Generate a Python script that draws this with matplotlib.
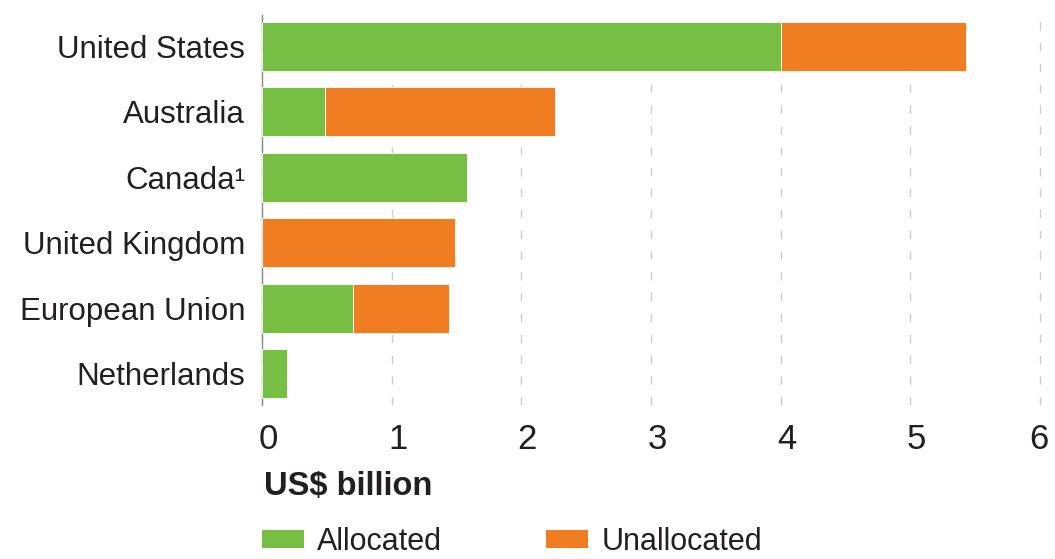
import matplotlib
matplotlib.use("Agg")
import matplotlib.pyplot as plt
from matplotlib.patches import Patch
import matplotlib.transforms as mtransforms

plt.rcParams['font.family'] = ['Liberation Sans', 'DejaVu Sans']

countries = ["United States", "Australia", "Canada\u00b9", "United Kingdom",
             "European Union", "Netherlands"]
allocated = [4.00, 0.49, 1.58, 0.00, 0.70, 0.19]
unallocated = [1.43, 1.77, 0.00, 1.49, 0.74, 0.00]
xticks = [0, 1, 2, 3, 4, 5, 6]

green = "#77BF43"
orange = "#F07D22"
ink = "#231f20"

fig = plt.figure(figsize=(10.55, 5.59), dpi=100)
ax = fig.add_axes([0.2483, 0.2755, 0.7375, 0.6975])

ypos = list(range(len(countries)))
ax.barh(ypos, allocated, height=0.75, color=green, edgecolor="white",
        linewidth=0.6, zorder=3)
ax.barh(ypos, unallocated, left=allocated, height=0.75, color=orange,
        edgecolor="white", linewidth=0.6, zorder=3)

ax.set_xlim(0, 6)
ax.set_ylim(len(countries) - 0.52, -0.48)
ax.set_yticks(ypos)
ax.set_yticklabels(countries, fontsize=22.5, color=ink)
ax.set_xticks(xticks)
ax.set_xticklabels([str(t) for t in xticks], fontsize=25, color=ink)

ax.tick_params(axis="both", length=0)
ax.tick_params(axis="x", pad=13)
ax.tick_params(axis="y", pad=12)

# nudge the tick numbers slightly right of their gridlines (last one stays inside)
labels = ax.get_xticklabels()
for i, lbl in enumerate(labels):
    dx = 6 if i < len(labels) - 1 else -1
    lbl.set_transform(lbl.get_transform() +
                      mtransforms.ScaledTranslation(dx / 100, 0, fig.dpi_scale_trans))

for s in ["top", "right", "bottom"]:
    ax.spines[s].set_visible(False)
ax.spines["left"].set_color("#8a8a8a")
ax.spines["left"].set_linewidth(1.0)

ax.xaxis.grid(True, linestyle=(0, (6, 9)), color="#cccccc", linewidth=1.0, zorder=0)
for gl in ax.get_xgridlines():
    gl.set_clip_on(False)
ax.set_axisbelow(True)

fig.text(264 / 1055, 1 - 487 / 559, "US$ billion", fontsize=23.5, fontweight="bold",
         color=ink, va="center", ha="left")

handles = [Patch(facecolor=green, label="Allocated"),
           Patch(facecolor=orange, label="Unallocated")]
leg = fig.legend(handles=handles, loc="center left",
                 bbox_to_anchor=(262 / 1055, 1 - 542 / 559),
                 ncol=2, frameon=False, fontsize=22, handlelength=1.38,
                 handleheight=0.53, handletextpad=0.43, columnspacing=3.4,
                 borderpad=0, borderaxespad=0)
for t in leg.get_texts():
    t.set_color(ink)

fig.savefig("out.png", dpi=100)
